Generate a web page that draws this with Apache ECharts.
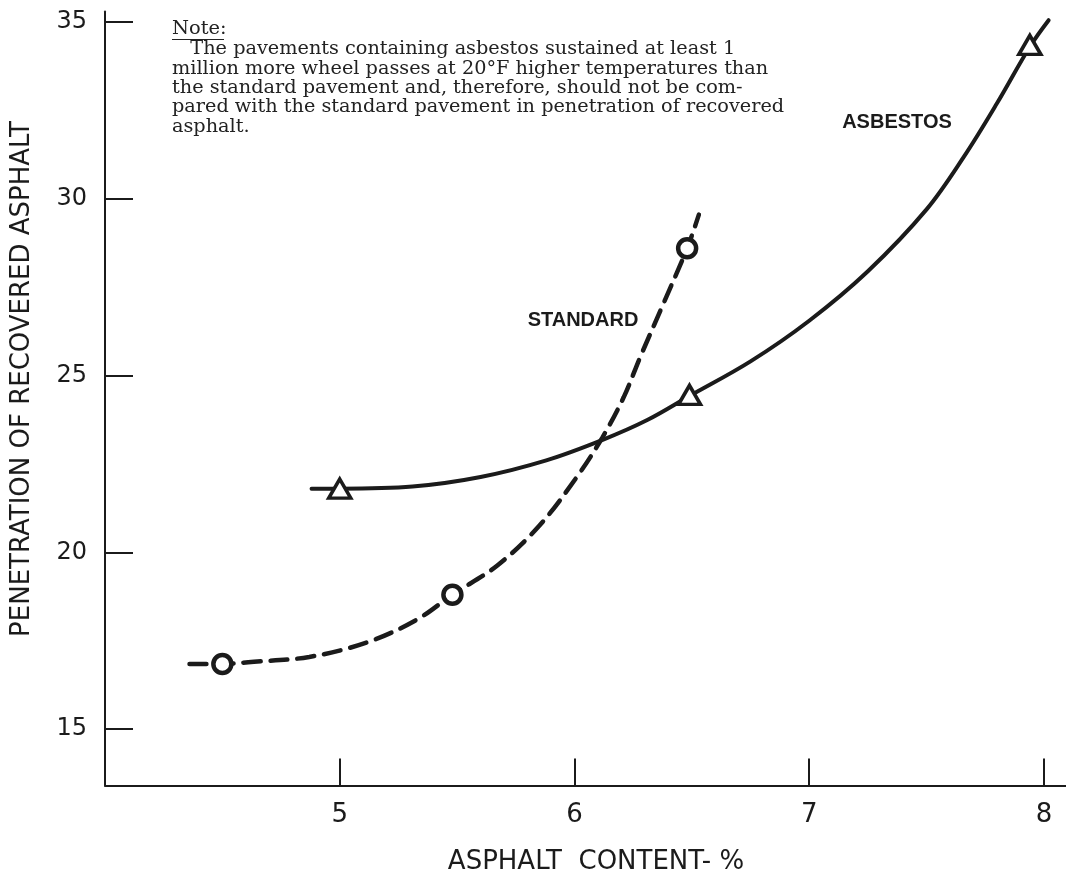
<!DOCTYPE html>
<html>
<head>
<meta charset="utf-8">
<script src="https://cdn.jsdelivr.net/npm/echarts@6/dist/echarts.min.js"></script>
<style>
html,body{margin:0;padding:0;background:#fff;}
#chart{width:1066px;height:881px;}
</style>
</head>
<body>
<div id="chart"></div>
<script>
// ---- data ----
const xTicks = [5, 6, 7, 8];
const yTicks = [15, 20, 25, 30, 35];

// standard pavement (dashed curve, circles)
const stdCurveX = [4.36, 4.5, 4.61, 4.87, 5.12, 5.33, 5.48, 5.67, 5.85, 6.01, 6.12, 6.21, 6.28, 6.38, 6.48, 6.53];
const stdCurveY = [16.84, 16.84, 16.89, 17.04, 17.46, 18.1, 18.8, 19.62, 20.75, 22.13, 23.26, 24.39, 25.52, 27.05, 28.6, 29.55];
const stdPtsX = [4.5, 5.48, 6.48];
const stdPtsY = [16.84, 18.8, 28.6];

// asbestos pavement (solid curve, triangles)
const asbCurveX = [4.88, 5.0, 5.31, 5.6, 5.88, 6.12, 6.31, 6.49, 6.75, 7.0, 7.25, 7.5, 7.66, 7.8, 7.94, 8.02];
const asbCurveY = [21.8, 21.8, 21.86, 22.13, 22.6, 23.18, 23.74, 24.42, 25.4, 26.55, 27.95, 29.7, 31.2, 32.7, 34.3, 35.05];
const asbPtsX = [5.0, 6.49, 7.94];
const asbPtsY = [21.8, 24.45, 34.35];

const xTitle = 'ASPHALT  CONTENT- %';
const yTitle = 'PENETRATION OF RECOVERED ASPHALT';
const stdLabel = 'STANDARD';
const asbLabel = 'ASBESTOS';
const noteHead = 'Note:';
const noteLines = [
  '   The pavements containing asbestos sustained at least 1',
  'million more wheel passes at 20\u00B0F higher temperatures than',
  'the standard pavement and, therefore, should not be com-',
  'pared with the standard pavement in penetration of recovered',
  'asphalt.'
];

const zip = (xs, ys) => xs.map((x, i) => [x, ys[i]]);
const INK = '#1b1b1b';
const SANS = '"DejaVu Sans", "Noto Sans", sans-serif';
const SERIF = '"DejaVu Serif", serif';

const chart = echarts.init(document.getElementById('chart'), null, {renderer: 'canvas'});
chart.setOption({
  backgroundColor: '#ffffff',
  animation: false,
  grid: {left: 105, right: 0, top: 11.4, bottom: 95.4, containLabel: false},
  xAxis: {
    type: 'value', min: 4.0, max: 8.094,
    axisLine: {show: true, onZero: false, lineStyle: {color: INK, width: 2}},
    axisTick: {show: true, inside: true, length: 27, customValues: xTicks, lineStyle: {color: INK, width: 2}},
    axisLabel: {customValues: xTicks, color: INK, fontSize: 26, fontFamily: SANS, margin: 17},
    splitLine: {show: false}
  },
  yAxis: {
    type: 'value', min: 13.4, max: 35.3,
    axisLine: {show: true, onZero: false, lineStyle: {color: INK, width: 2}},
    axisTick: {show: true, inside: true, length: 28, customValues: yTicks, lineStyle: {color: INK, width: 2}},
    axisLabel: {customValues: yTicks, color: INK, fontSize: 24, fontFamily: SANS, margin: 18},
    splitLine: {show: false}
  },
  series: [
    {
      name: 'Standard curve', type: 'line', data: zip(stdCurveX, stdCurveY),
      showSymbol: false, smooth: 0.35, z: 2,
      lineStyle: {color: INK, width: 4.5, type: [17, 10], cap: 'round'}
    },
    {
      name: 'Asbestos curve', type: 'line', data: zip(asbCurveX, asbCurveY),
      showSymbol: false, smooth: 0.35, z: 2,
      lineStyle: {color: INK, width: 4, type: 'solid', cap: 'round'}
    },
    {
      name: 'Standard', type: 'scatter', data: zip(stdPtsX, stdPtsY),
      symbol: 'circle', symbolSize: 18, z: 5,
      itemStyle: {color: '#fff', borderColor: INK, borderWidth: 4.5, opacity: 1}
    },
    {
      name: 'Asbestos', type: 'scatter', data: zip(asbPtsX, asbPtsY),
      symbol: 'triangle', symbolSize: [22, 19], z: 5,
      itemStyle: {color: '#fff', borderColor: INK, borderWidth: 3.5, opacity: 1}
    }
  ],
  graphic: [
    {type: 'text', x: 22, y: 379, rotation: Math.PI / 2,
      style: {text: yTitle, fill: INK, font: '26px ' + SANS, align: 'center', verticalAlign: 'middle'}},
    {type: 'text', x: 596, y: 862,
      style: {text: xTitle, fill: INK, font: '26px ' + SANS, align: 'center', verticalAlign: 'middle'}},
    {type: 'text', x: 897, y: 122,
      style: {text: asbLabel, fill: INK, font: 'bold 20px "Liberation Sans", Arial, sans-serif', align: 'center', verticalAlign: 'middle'}},
    {type: 'text', x: 583, y: 320,
      style: {text: stdLabel, fill: INK, font: 'bold 20px "Liberation Sans", Arial, sans-serif', align: 'center', verticalAlign: 'middle'}},
    {type: 'text', x: 172, y: 29, scaleX: 1.08,
      style: {text: noteHead, fill: '#222', font: '18px ' + SERIF, align: 'left', verticalAlign: 'middle'}},
    {type: 'line', shape: {x1: 172, y1: 39.5, x2: 224, y2: 39.5}, style: {stroke: '#222', lineWidth: 1.2}},
    {type: 'text', x: 172, y: 40, scaleX: 1.07,
      style: {text: noteLines.join('\n'), fill: '#222', font: '18px ' + SERIF, lineHeight: 19.3, align: 'left', verticalAlign: 'top'}}
  ]
});
</script>
</body>
</html>
